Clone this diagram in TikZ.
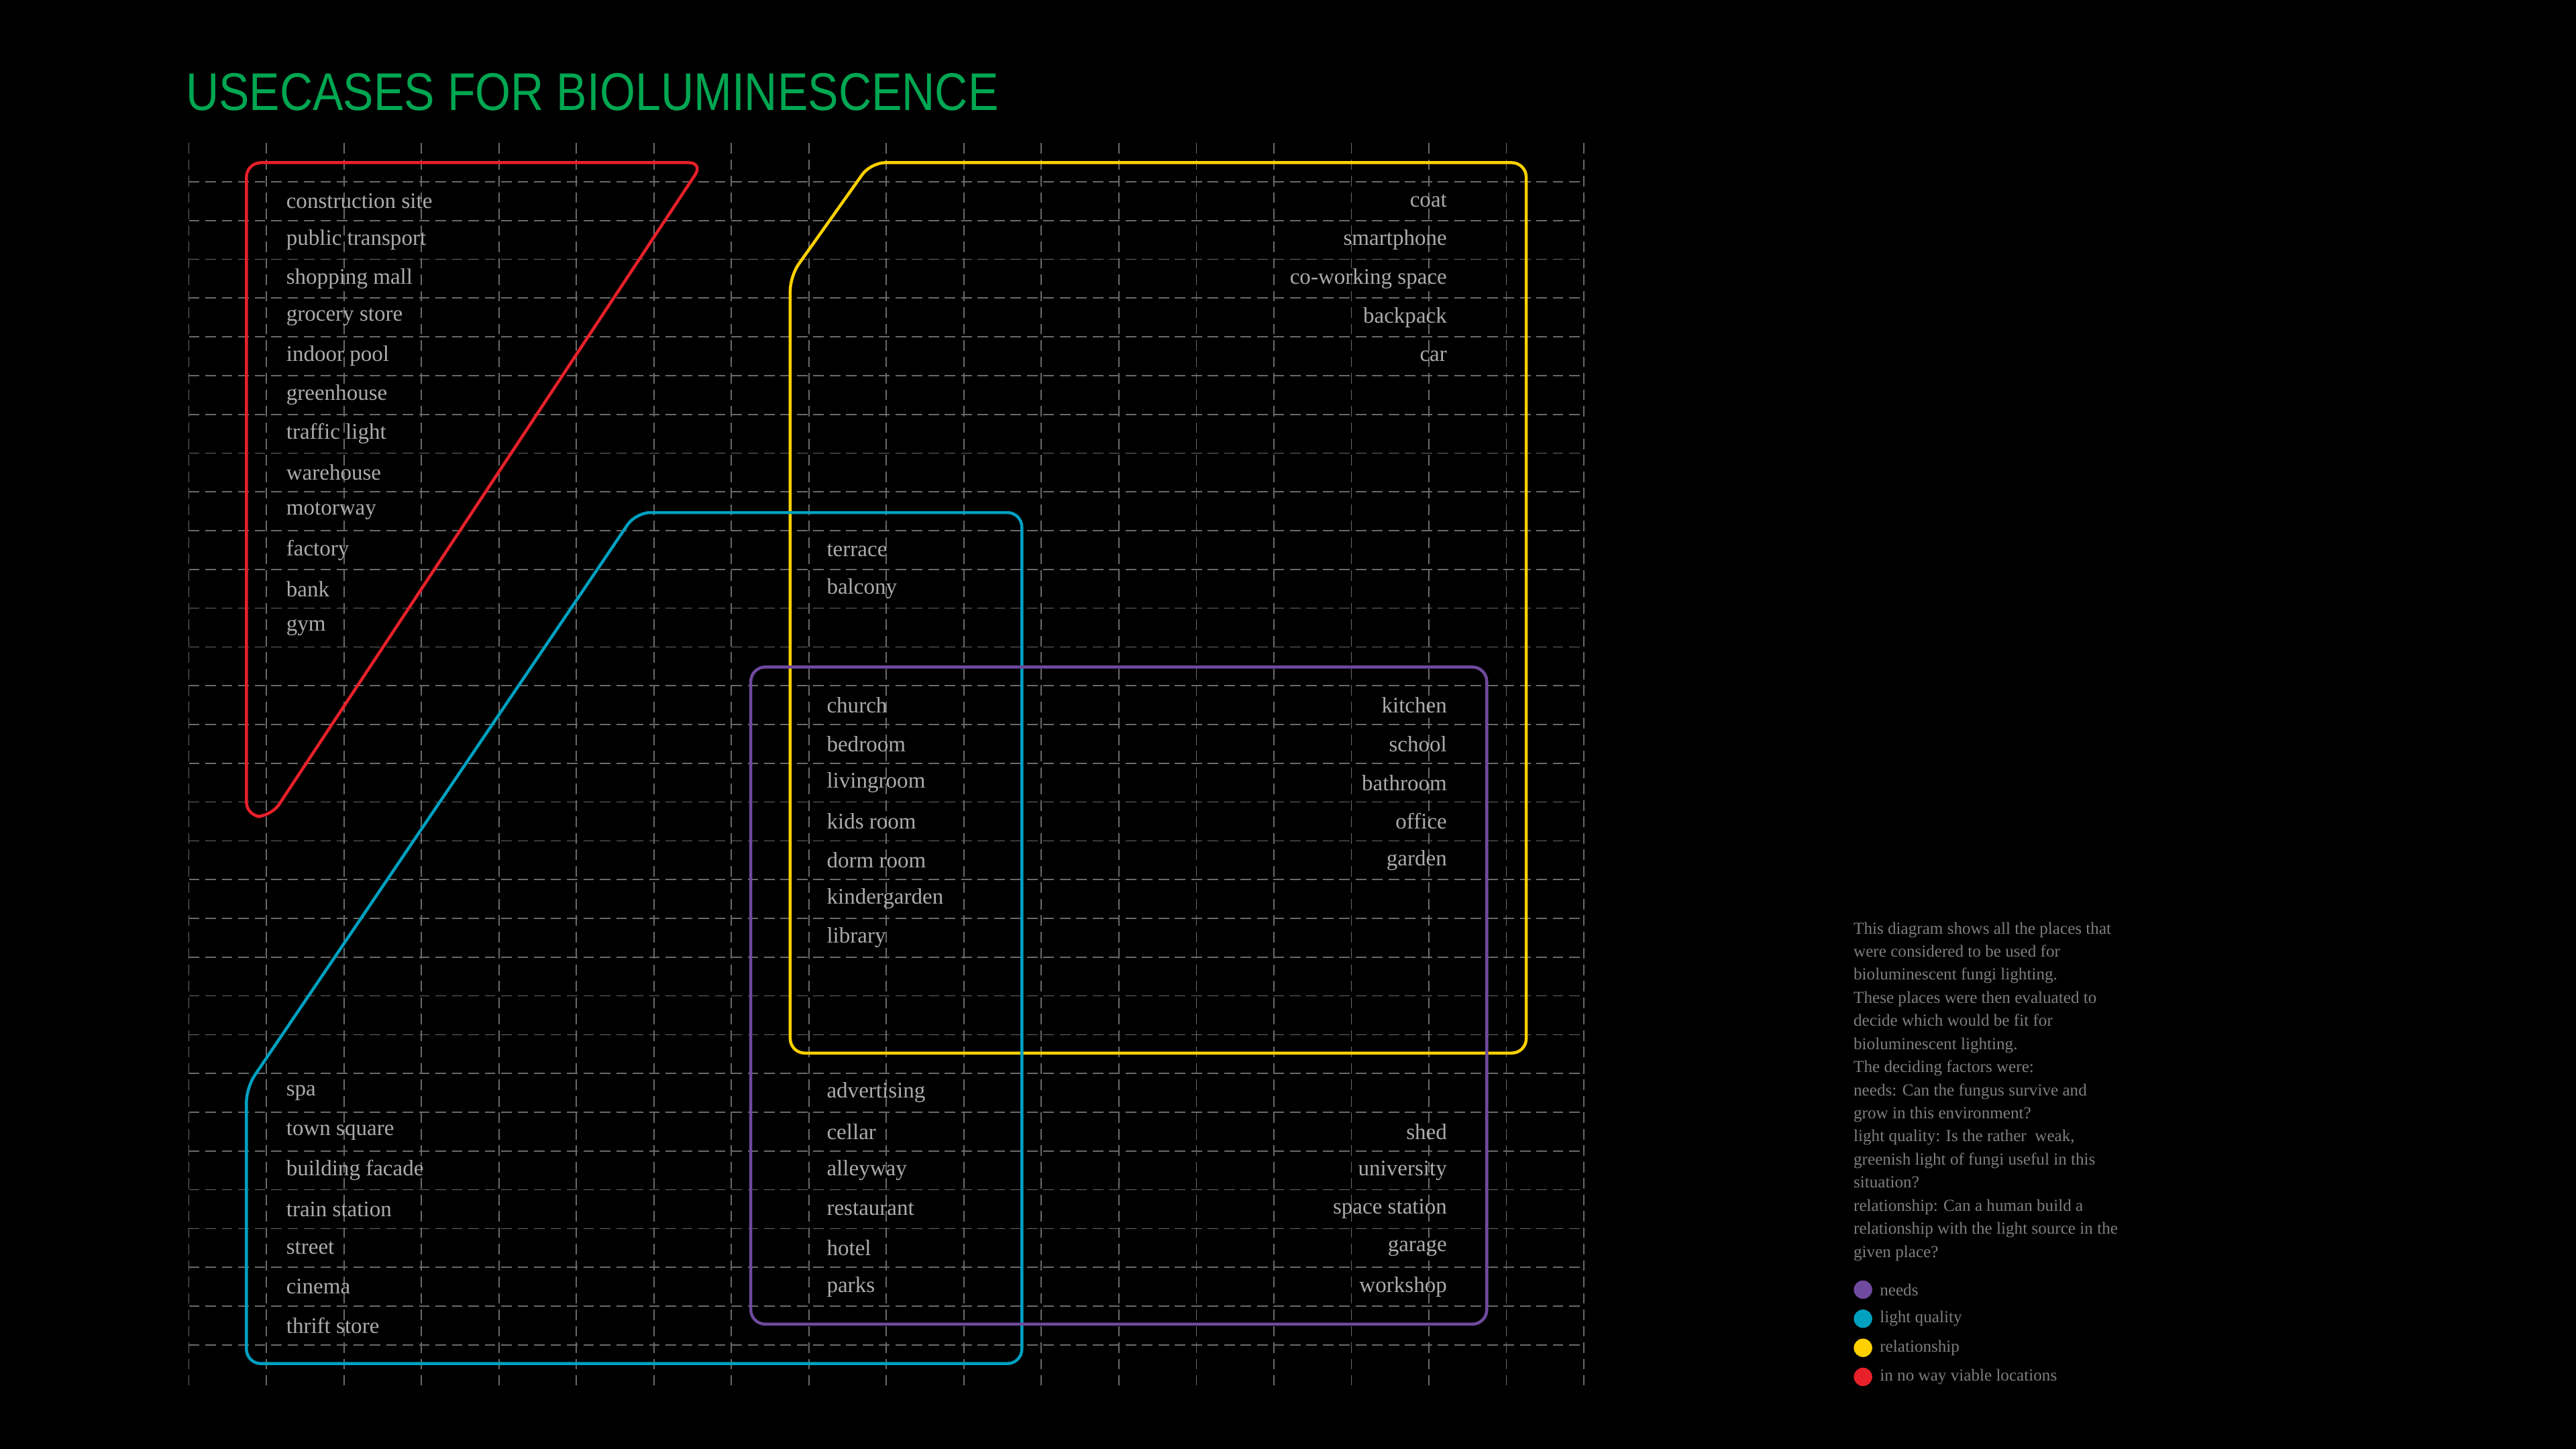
\documentclass[tikz,border=0pt]{standalone}
\usepackage{fontspec}
\setmainfont{Liberation Serif}
\newfontfamily\titlefont{Liberation Sans}
\definecolor{bred}{HTML}{E8202A}
\definecolor{byel}{HTML}{FFD100}
\definecolor{bcyan}{HTML}{00A0C0}
\definecolor{bpurp}{HTML}{6F4A9E}
\definecolor{bgreen}{HTML}{00A651}
\definecolor{gridc}{HTML}{6A6A6A}
\definecolor{txt}{HTML}{ABABAB}
\definecolor{ltxt}{HTML}{7E7E7E}
\tikzset{
 gridline/.style={gridc, line width=0.5pt, dash pattern=on 0.16cm off 0.09cm},
 zone/.style={line width=1.3pt, rounded corners=0.22cm},
 lbl/.style={text=txt, font=\fontsize{9.6}{11}\selectfont, inner sep=0pt},
 leftlbl/.style={lbl, anchor=west},
 rightlbl/.style={lbl, anchor=east},
 note/.style={text=ltxt, font=\fontsize{7.3}{10}\selectfont, inner sep=0pt, anchor=north west, align=left},
 dot/.style={circle, inner sep=0pt, minimum size=0.28cm},
}
\begin{document}
\begin{tikzpicture}[x=0.025cm, y=-0.025cm]
\fill[black] (0,0) rectangle (1568,882);
\useasboundingbox (0,0) rectangle (1568,882);
% grid
\foreach \i in {0,...,18} \draw[gridline] (115+47.17*\i,87) -- (115+47.17*\i,843);
\foreach \j in {1,...,31} \draw[gridline] (115,87+23.6*\j) -- (964,87+23.6*\j);
% title
\node[anchor=base west, inner sep=0pt, text=bgreen, xscale=0.86, font=\titlefont\fontsize{23}{26}\selectfont] (title) at (113,67) {USECASES FOR BIOLUMINESCENCE};
% zones
\draw[zone, bred] (150,99) -- (428,99) -- (165,497) -- (150,497) -- cycle;
\draw[zone, byel] (530,99) -- (929,99) -- (929,641) -- (481,641) -- (481,168) -- cycle;
\draw[zone, bcyan] (387,312) -- (622,312) -- (622,830) -- (150,830) -- (150,662) -- cycle;
\draw[zone, bpurp] (457,406) rectangle (905,806);
% left column
\foreach \t [count=\k from 0] in {construction site,public transport,shopping mall,grocery store,indoor pool,greenhouse,traffic light,warehouse,motorway,factory,bank,gym}
  \node[leftlbl] (a\k) at (174,122.4+23.6*\k) {\t};
\foreach \t [count=\k from 0] in {spa,town square,building facade,train station,street,cinema,thrift store}
  \node[leftlbl] (b\k) at (174,665.2+23.6*\k) {\t};
% middle column
\node[leftlbl] (m1) at (503,334.8) {terrace};
\node[leftlbl] (m2) at (503,358.4) {balcony};
\foreach \t [count=\k from 0] in {church,bedroom,livingroom,kids room,dorm room,kindergarden,library}
  \node[leftlbl] (c\k) at (503,429.2+23.6*\k) {\t};
\foreach \t [count=\k from 0] in {advertising,cellar,alleyway,restaurant,hotel,parks}
  \node[leftlbl] (d\k) at (503,665.2+23.6*\k) {\t};
% right column
\foreach \t [count=\k from 0] in {coat,smartphone,co-working space,backpack,car}
  \node[rightlbl] (r\k) at (881,122.4+23.6*\k) {\t};
\foreach \t [count=\k from 0] in {kitchen,school,bathroom,office,garden}
  \node[rightlbl] (s\k) at (881,429.2+23.6*\k) {\t};
\foreach \t [count=\k from 0] in {shed,university,space station,garage,workshop}
  \node[rightlbl] (u\k) at (881,688.8+23.6*\k) {\t};
% description
\node[note] (desc) at (1128,561) {This diagram shows all the places that\\were considered to be used for\\bioluminescent fungi lighting.\\These places were then evaluated to\\decide which would be fit for\\bioluminescent lighting.\\The deciding factors were:\\needs: Can the fungus survive and\\grow in this environment?\\light quality: Is the rather\ \ weak,\\greenish light of fungi useful in this\\situation?\\relationship: Can a human build a\\relationship with the light source in the\\given place?};
% legend
\foreach \c/\t [count=\k from 0] in {bpurp/needs,bcyan/light quality,byel/relationship,bred/in no way viable locations}{
  \node[dot, fill=\c] (ld\k) at (1134,785+17.7*\k) {};
  \node[note, anchor=west] (lt\k) at (1144,785+17.7*\k) {\t};
}
\end{tikzpicture}
\end{document}
